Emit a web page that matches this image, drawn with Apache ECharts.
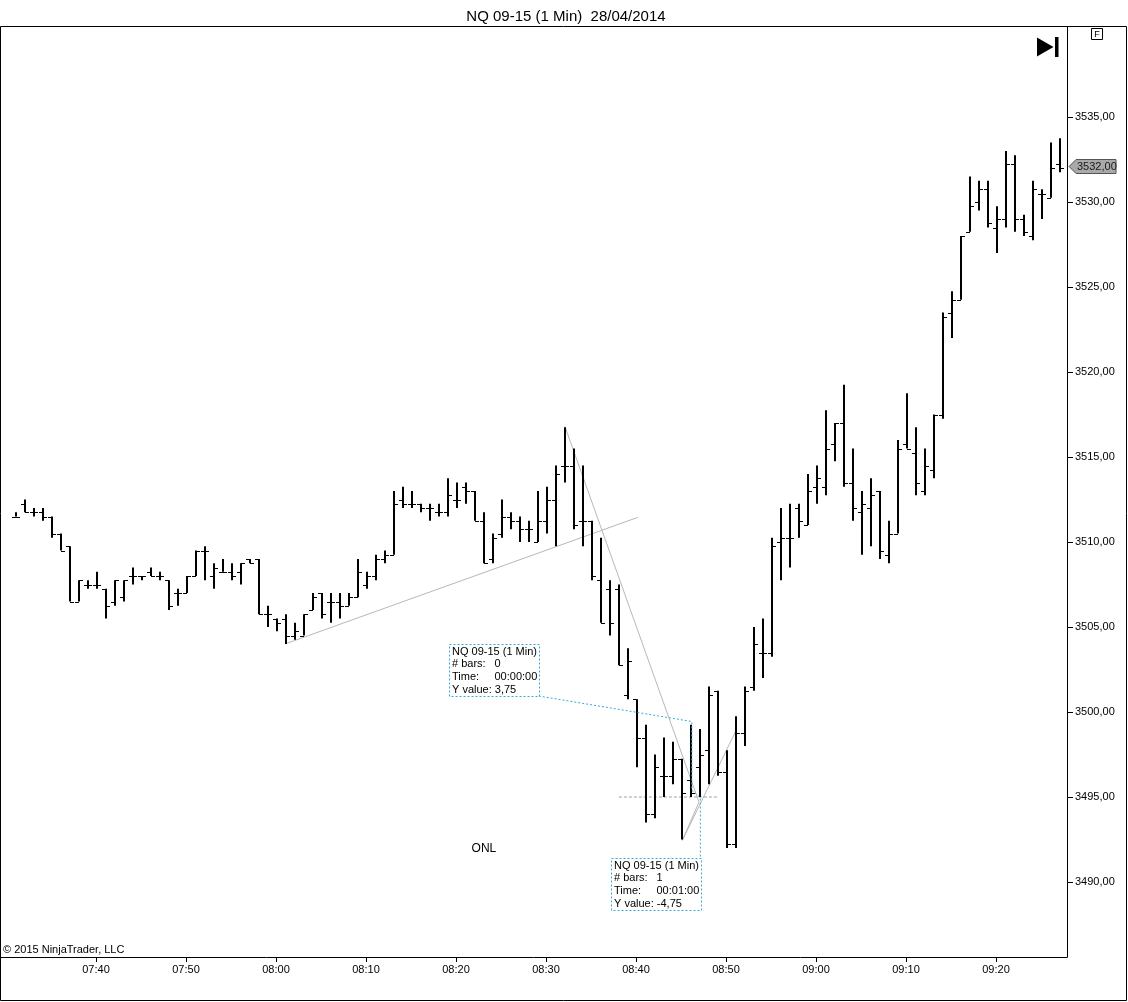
<!DOCTYPE html>
<html><head><meta charset="utf-8">
<script src="https://cdn.jsdelivr.net/npm/echarts@6/dist/echarts.min.js"></script>
<style>html,body{margin:0;padding:0;background:#fff}#c{width:1128px;height:1002px}</style>
</head><body><div id="c"></div>
<script>
// ---------- data ----------
var times = [
 '07:31','07:32','07:33','07:34','07:35','07:36','07:37','07:38','07:39','07:40',
 '07:41','07:42','07:43','07:44','07:45','07:46','07:47','07:48','07:49','07:50',
 '07:51','07:52','07:53','07:54','07:55','07:56','07:57','07:58','07:59','08:00',
 '08:01','08:02','08:03','08:04','08:05','08:06','08:07','08:08','08:09','08:10',
 '08:11','08:12','08:13','08:14','08:15','08:16','08:17','08:18','08:19','08:20',
 '08:21','08:22','08:23','08:24','08:25','08:26','08:27','08:28','08:29','08:30',
 '08:31','08:32','08:33','08:34','08:35','08:36','08:37','08:38','08:39','08:40',
 '08:41','08:42','08:43','08:44','08:45','08:46','08:47','08:48','08:49','08:50',
 '08:51','08:52','08:53','08:54','08:55','08:56','08:57','08:58','08:59','09:00',
 '09:01','09:02','09:03','09:04','09:05','09:06','09:07','09:08','09:09','09:10',
 '09:11','09:12','09:13','09:14','09:15','09:16','09:17','09:18','09:19','09:20',
 '09:21','09:22','09:23','09:24','09:25','09:26','09:27'
];
var opens = [
 3511.5,3512.25,3511.75,3511.75,3511.5,3510.5,3509.75,3506.5,3507.5,3507.5,
 3507.25,3506.5,3506.75,3508.0,3508.0,3508.25,3508.0,3507.75,3507.0,3507.0,
 3508.0,3509.5,3508.0,3508.25,3508.25,3508.25,3509.0,3509.0,3505.75,3505.5,
 3505.5,3504.5,3504.5,3506.0,3507.0,3506.5,3506.5,3506.25,3506.75,3507.5,
 3508.0,3509.0,3509.25,3512.5,3512.25,3512.25,3512.0,3511.75,3511.75,3512.5,
 3513.25,3513.0,3511.25,3509.0,3510.5,3511.5,3511.25,3510.75,3510.0,3511.25,
 3512.5,3514.5,3514.5,3511.25,3511.25,3507.75,3507.25,3507.25,3501.0,3500.75,
 3498.5,3494.0,3496.25,3496.25,3497.25,3496.0,3496.75,3497.75,3501.25,3496.5,
 3492.25,3498.75,3501.5,3503.5,3503.5,3510.0,3510.25,3512.0,3511.0,3513.25,
 3513.25,3515.75,3517.0,3513.5,3511.75,3512.0,3513.0,3509.25,3510.5,3515.75,
 3515.25,3513.0,3514.25,3517.5,3523.5,3524.25,3528.25,3530.0,3530.75,3528.5,
 3529.0,3532.25,3529.0,3528.0,3530.5,3530.25,3532.25
];
var highs = [
 3511.75,3512.5,3512.0,3512.0,3511.5,3510.5,3509.75,3507.75,3507.75,3508.25,
 3507.25,3507.75,3507.75,3508.5,3508.0,3508.5,3508.25,3507.75,3507.25,3508.0,
 3509.5,3509.75,3508.75,3509.0,3508.75,3508.75,3509.0,3509.0,3506.25,3505.5,
 3505.75,3505.25,3505.75,3507.0,3507.0,3507.0,3507.0,3507.0,3509.0,3508.25,
 3509.25,3509.5,3513.0,3513.25,3513.0,3512.25,3512.25,3512.25,3513.75,3513.5,
 3513.5,3513.0,3511.75,3510.5,3512.5,3511.75,3511.5,3511.25,3513.0,3513.25,
 3514.5,3516.75,3515.5,3514.5,3511.25,3510.25,3507.75,3507.5,3503.75,3500.75,
 3499.25,3497.5,3498.5,3498.25,3497.25,3499.25,3499.0,3501.5,3501.25,3497.75,
 3499.75,3501.5,3505.0,3505.5,3510.25,3512.0,3512.25,3512.25,3514.0,3514.5,
 3517.75,3517.0,3519.25,3515.5,3513.0,3513.75,3513.0,3511.25,3516.0,3518.75,
 3516.75,3515.5,3517.5,3523.5,3524.75,3528.0,3531.5,3531.25,3531.25,3529.75,
 3533.0,3532.75,3529.25,3531.25,3530.75,3533.5,3533.75
];
var lows = [
 3511.5,3511.75,3511.5,3511.25,3510.25,3509.5,3506.5,3506.5,3507.25,3507.25,
 3505.5,3506.25,3506.5,3507.5,3507.75,3508.0,3507.75,3506.0,3506.25,3507.0,
 3508.0,3507.75,3507.25,3508.25,3507.75,3507.5,3508.75,3505.75,3505.0,3504.75,
 3504.0,3504.25,3504.5,3506.0,3505.5,3505.25,3505.5,3506.25,3506.75,3507.25,
 3507.75,3508.75,3509.25,3512.0,3512.0,3511.75,3511.25,3511.5,3511.5,3512.0,
 3512.25,3511.25,3508.75,3508.75,3510.25,3510.75,3510.0,3510.0,3510.0,3510.5,
 3509.75,3513.5,3510.75,3509.75,3507.75,3505.25,3504.5,3502.75,3500.75,3496.75,
 3493.5,3493.75,3495.0,3495.75,3492.5,3495.0,3495.0,3495.75,3496.25,3492.0,
 3492.0,3498.0,3501.25,3502.0,3503.25,3507.75,3508.5,3510.25,3511.0,3512.25,
 3512.75,3514.75,3513.25,3511.25,3509.25,3509.75,3509.0,3508.75,3510.5,3515.5,
 3512.75,3512.75,3513.75,3517.25,3522.0,3524.25,3528.25,3529.5,3528.5,3527.0,
 3528.5,3528.25,3528.0,3527.75,3529.0,3530.25,3531.75
];
var closes = [
 3511.5,3511.75,3511.75,3511.5,3510.5,3509.5,3506.5,3507.75,3507.5,3507.5,
 3506.25,3507.75,3507.75,3508.0,3508.0,3508.0,3508.0,3506.25,3507.0,3508.0,
 3509.5,3509.5,3508.5,3508.25,3508.0,3508.75,3508.75,3505.75,3505.75,3505.25,
 3504.5,3504.75,3505.75,3506.75,3505.75,3506.5,3506.25,3506.75,3508.25,3508.0,
 3509.0,3509.25,3512.25,3512.25,3512.25,3512.0,3512.0,3511.75,3512.75,3512.5,
 3513.0,3511.25,3508.75,3510.25,3511.5,3511.25,3510.75,3510.75,3511.25,3512.5,
 3514.0,3514.5,3511.0,3511.25,3508.0,3505.25,3505.25,3502.75,3503.0,3498.5,
 3494.0,3496.75,3496.25,3497.25,3495.25,3495.25,3497.5,3501.0,3496.5,3492.25,
 3498.75,3501.25,3504.0,3503.5,3509.75,3510.25,3510.25,3511.25,3513.0,3513.75,
 3515.5,3517.0,3513.5,3512.0,3512.25,3512.75,3509.5,3510.5,3515.5,3515.5,
 3513.5,3514.5,3517.5,3523.25,3524.25,3528.0,3529.75,3530.75,3528.75,3529.0,
 3532.25,3529.0,3528.25,3530.75,3530.5,3532.0,3532.0
];
var xTickLabels = ['07:40','07:50','08:00','08:10','08:20','08:30','08:40','08:50','09:00','09:10','09:20'];
var yTickValues = [3490,3495,3500,3505,3510,3515,3520,3525,3530,3535];

// ---------- helpers / layout ----------
var FONT = "'Liberation Sans', Arial, sans-serif";
function toMin(t){ var p=t.split(':'); return (+p[0])*60 + (+p[1]) - 420; }
function fmtMin(v){ var m=Math.round(v)+420; var h=Math.floor(m/60), mm=m%60; return (h<10?'0':'')+h+':'+(mm<10?'0':'')+mm; }
function fmtPrice(v){ return v.toFixed(2).replace('.', ','); }

var PX_PER_MIN = 9, PX_PER_PT = 17;
var GRID = {left:0, right:61, top:27, bottom:45};
var X_MIN = 40 - 96/PX_PER_MIN;
var X_MAX = X_MIN + (1128-GRID.left-GRID.right)/PX_PER_MIN;
var Y_MAX = 3535 + (117-GRID.top)/PX_PER_PT;
var Y_MIN = Y_MAX - (1002-GRID.top-GRID.bottom)/PX_PER_PT;

var ohlc = times.map(function(t,i){ return [toMin(t), opens[i], highs[i], lows[i], closes[i]]; });
var xTickValues = xTickLabels.map(toMin);

// drawing objects (data coordinates: minutes after 07:00, price)
var trendLine = [[61, 3504.0], [100.2, 3511.45]];
var zigLine = [[92.1, 3516.8], [107.0, 3494.7], [105.15, 3492.45], [111.2, 3499.0]];
var levelLine = [[98.1, 3495.0], [109.1, 3495.0]];
var rulerPath = [[89.2, 3500.94], [106.2, 3499.44], [106.2, 3495.4], [107.15, 3494.95], [107.15, 3491.4]];
var rulerBoxes = [
  {x0:79.2, x1:89.2, y0:3504.0, y1:3500.94,
   rows:[['NQ 09-15 (1 Min)',''],['# bars:','0'],['Time:','00:00:00'],['Y value: 3,75','']]},
  {x0:97.2, x1:107.2, y0:3491.4, y1:3488.33,
   rows:[['NQ 09-15 (1 Min)',''],['# bars:','1'],['Time:','00:01:00'],['Y value: -4,75','']]}
];
var textNotes = [{x:83.1, y:3491.95, text:'ONL'}];
var CYAN = '#36a9d8';

var chart = echarts.init(document.getElementById('c'), null, {renderer:'canvas'});

function ohlcItem(params, api){
  var x = api.value(0);
  var po = api.coord([x, api.value(1)]), ph = api.coord([x, api.value(2)]),
      pl = api.coord([x, api.value(3)]), pc = api.coord([x, api.value(4)]);
  var cx = Math.round(ph[0]) + 1;
  var yh = ph[1], yl = pl[1];
  if (yl - yh < 1) { yl = yh + 1; }
  var yo = Math.round(po[1]) + 0.5, yc = Math.round(pc[1]) + 0.5;
  return {type:'group', children:[
    {type:'line', shape:{x1:cx, y1:yh, x2:cx, y2:yl}, style:{stroke:'#000', lineWidth:2}},
    {type:'line', shape:{x1:cx-4, y1:yo, x2:cx, y2:yo}, style:{stroke:'#000', lineWidth:1}},
    {type:'line', shape:{x1:cx, y1:yc, x2:cx+4, y2:yc}, style:{stroke:'#000', lineWidth:1}}
  ]};
}

function annoItem(params, api){
  var i = params.dataIndex;
  var children = [];
  if (i < rulerBoxes.length) {
    var b = rulerBoxes[i];
    var p0 = api.coord([b.x0, b.y0]), p1 = api.coord([b.x1, b.y1]);
    var L = Math.round(p0[0]) + 0.5, T = Math.round(p0[1]) + 0.5;
    var R = Math.round(p1[0]) + 0.5, B = Math.round(p1[1]) + 0.5;
    children.push({type:'rect', shape:{x:L, y:T, width:R-L, height:B-T},
      style:{fill:'#fff', stroke:CYAN, lineWidth:1, lineDash:[2,2]}});
    b.rows.forEach(function(r, k){
      var ty = T + 7 + k*12.7;
      children.push({type:'text', style:{text:r[0], x:L+2.5, y:ty, font:'11px '+FONT, fill:'#000', textVerticalAlign:'middle', verticalAlign:'middle'}});
      if (r[1]) children.push({type:'text', style:{text:r[1], x:L+45, y:ty, font:'11px '+FONT, fill:'#000', textVerticalAlign:'middle', verticalAlign:'middle'}});
    });
  } else {
    var n = textNotes[i - rulerBoxes.length];
    var p = api.coord([n.x, n.y]);
    children.push({type:'text', style:{text:n.text, x:p[0], y:p[1], font:'12px '+FONT, fill:'#000', align:'center', textAlign:'center', verticalAlign:'middle', textVerticalAlign:'middle'}});
  }
  return {type:'group', children:children};
}

function tagItem(params, api){
  var p = api.coord([X_MAX, api.value(1)]);
  var x = Math.round(p[0]) + 2, y = Math.round(p[1]) - 1.5;
  return {type:'group', children:[
    {type:'polygon', shape:{points:[[x, y],[x+7, y-7],[x+47, y-7],[x+47, y+7],[x+7, y+7]]},
     style:{fill:'#a9a9a9', stroke:'#555', lineWidth:1}},
    {type:'text', style:{text:fmtPrice(api.value(1)), x:x+8, y:y+0.5, font:'11px '+FONT, fill:'#1a1a1a', verticalAlign:'middle', textVerticalAlign:'middle'}}
  ]};
}

var lineBase = {type:'line', symbol:'none', silent:true, animation:false, clip:false};

chart.setOption({
  animation:false,
  backgroundColor:'#fff',
  title:{text:'NQ 09-15 (1 Min)  28/04/2014', left:561, top:4, textAlign:'center',
    textStyle:{fontFamily:FONT, fontSize:15, fontWeight:'normal', color:'#000'}},
  grid:{left:GRID.left, right:GRID.right, top:GRID.top, bottom:GRID.bottom, containLabel:false},
  xAxis:{type:'value', min:X_MIN, max:X_MAX,
    axisLine:{show:true, onZero:false, lineStyle:{color:'#000', width:1}},
    axisTick:{show:true, length:5, customValues:xTickValues, lineStyle:{color:'#000'}},
    axisLabel:{show:true, customValues:xTickValues, formatter:fmtMin, color:'#000', fontFamily:FONT, fontSize:11, margin:7},
    splitLine:{show:false}},
  yAxis:{type:'value', position:'right', min:Y_MIN, max:Y_MAX,
    axisLine:{show:true, lineStyle:{color:'#000', width:1}},
    axisTick:{show:true, length:6, customValues:yTickValues, lineStyle:{color:'#000'}},
    axisLabel:{show:true, customValues:yTickValues, formatter:fmtPrice, color:'#000', fontFamily:FONT, fontSize:11, margin:8},
    splitLine:{show:false}},
  graphic:[
    {type:'rect', shape:{x:0.5, y:26.5, width:1126, height:974}, style:{fill:null, stroke:'#000', lineWidth:1}, z:100, silent:true},
    {type:'rect', shape:{x:1091.5, y:28.5, width:11, height:11}, style:{fill:'#fff', stroke:'#000', lineWidth:1}, z:100, silent:true},
    {type:'text', style:{text:'F', x:1097, y:34.5, font:'9px '+FONT, fill:'#000', align:'center', verticalAlign:'middle', textAlign:'center', textVerticalAlign:'middle'}, z:101, silent:true},
    {type:'polygon', shape:{points:[[1037,37.5],[1037,56.5],[1053.5,47]]}, style:{fill:'#000'}, z:100, silent:true},
    {type:'rect', shape:{x:1055, y:37, width:3.5, height:20}, style:{fill:'#000'}, z:100, silent:true},
    {type:'text', style:{text:'\u00a9 2015 NinjaTrader, LLC', x:3, y:950, font:'11px '+FONT, fill:'#000', verticalAlign:'middle', textVerticalAlign:'middle'}, z:100, silent:true}
  ],
  series:[
    Object.assign({}, lineBase, {name:'trend', data:trendLine, z:1, lineStyle:{color:'#b8b8b8', width:1}}),
    Object.assign({}, lineBase, {name:'zig', data:zigLine, z:1, lineStyle:{color:'#b8b8b8', width:1}}),
    Object.assign({}, lineBase, {name:'level', data:levelLine, z:1, lineStyle:{color:'#a0a0a0', width:1, type:[3,2]}}),
    {type:'custom', name:'NQ 09-15', renderItem:ohlcItem, data:ohlc, encode:{x:0, y:[1,2,3,4]}, z:2, animation:false, silent:true},
    Object.assign({}, lineBase, {name:'ruler', data:rulerPath, z:3, lineStyle:{color:CYAN, width:1, type:[2,2]}}),
    {type:'custom', name:'annotations', renderItem:annoItem, data:[0,1,2].map(function(v){return [X_MIN, Y_MIN];}), z:4, animation:false, silent:true, clip:false},
    {type:'custom', name:'lastPrice', renderItem:tagItem, data:[[ohlc[ohlc.length-1][0], closes[closes.length-1]]], z:5, animation:false, silent:true, clip:false}
  ]
});
</script></body></html>
